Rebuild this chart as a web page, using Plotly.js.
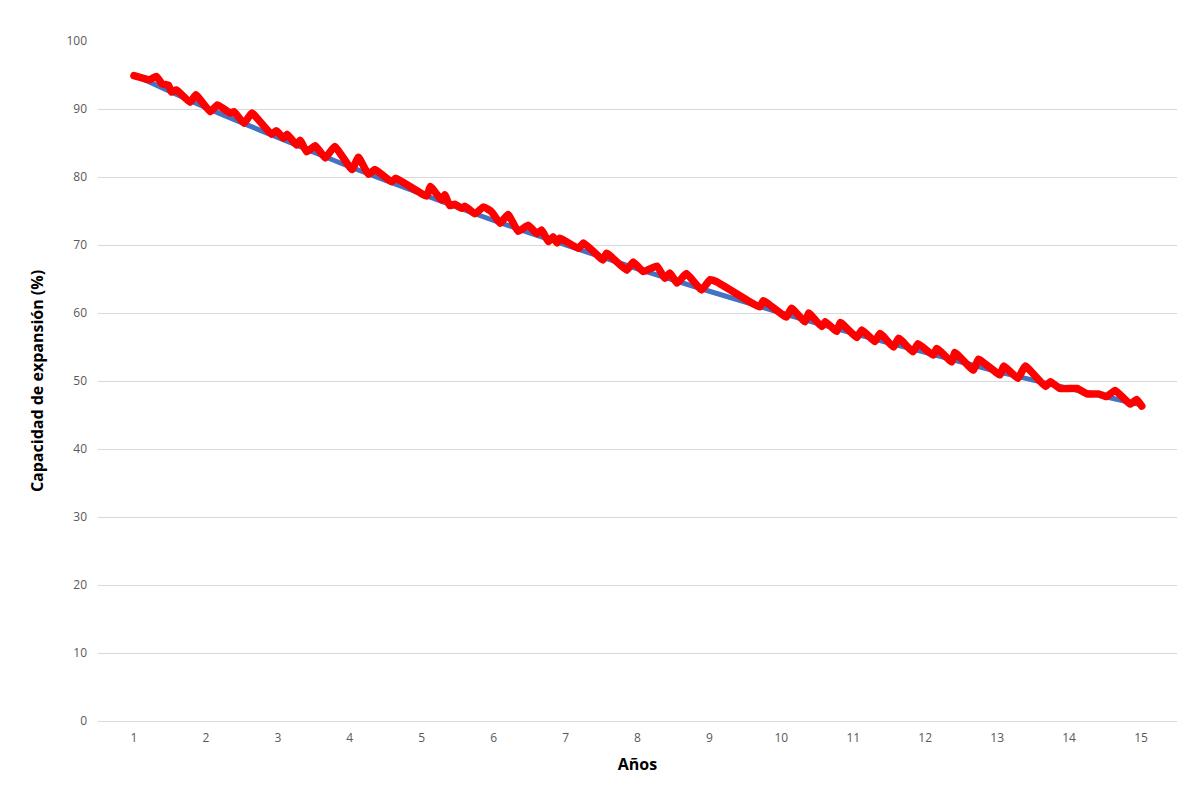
<!DOCTYPE html>
<html>
<head>
<meta charset="utf-8">
<script src="https://cdn.plot.ly/plotly-3.0.1.min.js"></script>
<style>
body{margin:0;background:#fff;}
#chart{width:1200px;height:812px;}
.js-line{stroke-linejoin:round !important;stroke-linecap:round !important;}
</style>
</head>
<body>
<div id="chart"></div>
<script>
// Reference (blue) line, one value per year
const trendYears = [1,2,3,4,5,6,7,8,9,10,11,12,13,14,15];
const trendValues = [95.0,90.2,85.8,81.5,77.5,73.6,70.0,66.5,63.2,60.0,57.0,54.2,51.4,48.9,46.5];

// Measured (red) line
const measuredYears = [1.00,1.22,1.31,1.39,1.48,1.52,1.59,1.78,1.86,2.06,2.16,2.34,2.39,2.53,2.64,2.91,2.98,3.08,3.13,3.26,
3.31,3.40,3.52,3.66,3.79,4.03,4.12,4.26,4.35,4.58,4.64,5.07,5.12,5.28,5.32,5.39,5.46,5.56,5.60,5.74,
5.86,5.97,6.09,6.20,6.34,6.48,6.60,6.67,6.76,6.83,6.88,6.92,7.18,7.25,7.52,7.57,7.85,7.94,8.08,8.27,
8.38,8.45,8.55,8.68,8.89,9.01,9.10,9.70,9.75,10.07,10.14,10.33,10.38,10.56,10.61,10.77,10.82,11.05,11.12,11.30,
11.37,11.56,11.63,11.83,11.90,12.11,12.16,12.37,12.41,12.67,12.74,13.04,13.09,13.29,13.39,13.67,13.74,13.87,14.11,14.25,
14.41,14.52,14.64,14.85,14.94,15.01];
const measuredValues = [94.9,94.3,94.8,93.7,93.5,92.5,92.8,91.0,92.1,89.6,90.6,89.4,89.6,87.9,89.4,86.3,86.8,85.7,86.3,84.7,
85.4,83.7,84.6,82.8,84.5,81.1,82.9,80.4,81.1,79.3,79.8,77.2,78.6,76.6,77.4,75.8,76.0,75.4,75.7,74.6,
75.6,74.9,73.2,74.5,72.0,72.9,71.7,72.2,70.5,71.2,70.3,71.0,69.5,70.3,67.8,68.8,66.3,67.5,66.1,66.9,
65.1,65.9,64.4,65.8,63.4,64.9,64.6,60.9,61.8,59.4,60.7,58.7,60.0,58.0,58.7,57.3,58.6,56.4,57.5,55.8,
57.0,55.0,56.3,54.3,55.5,53.8,54.8,52.8,54.2,51.6,53.2,50.9,52.2,50.4,52.2,49.2,49.9,48.9,48.9,48.1,
48.1,47.7,48.6,46.6,47.3,46.3];

const xTickVals = [1,2,3,4,5,6,7,8,9,10,11,12,13,14,15];
const xTickText = ['1','2','3','4','5','6','7','8','9','10','11','12','13','14','15'];
const yTickVals = [0,10,20,30,40,50,60,70,80,90,100];

const data = [
  {x: trendYears, y: trendValues, mode: 'lines', type: 'scatter',
   line: {color: '#4472C4', width: 5, shape: 'spline', smoothing: 0.6}, hoverinfo: 'skip'},
  {x: measuredYears, y: measuredValues, mode: 'lines', type: 'scatter',
   line: {color: '#FF0000', width: 7.5, shape: 'spline', smoothing: 0.35}}
];

const titleFont = {size: 16, color: '#000000', family: 'Open Sans, Liberation Sans, sans-serif', weight: 'bold'};

const layout = {
  width: 1200, height: 812,
  margin: {l: 98, r: 23, t: 41, b: 91},
  paper_bgcolor: '#ffffff', plot_bgcolor: '#ffffff',
  showlegend: false,
  font: {family: 'Open Sans, Liberation Sans, sans-serif', color: '#595959', size: 12},
  xaxis: {
    range: [0.5, 15.5],
    tickvals: xTickVals, ticktext: xTickText,
    showgrid: false, zeroline: false,
    showline: true, linecolor: '#d9d9d9', linewidth: 1,
    ticks: '', ticklabelstandoff: 6,
    tickfont: {size: 12, color: '#595959'},
    title: {text: 'Años', font: titleFont, standoff: 13}
  },
  yaxis: {
    range: [0, 100],
    tickvals: yTickVals,
    showgrid: true, gridcolor: '#d9d9d9', gridwidth: 1,
    zeroline: false, showline: false,
    ticks: '', ticklabelstandoff: 10,
    tickfont: {size: 12, color: '#595959'},
    title: {text: 'Capacidad de expansión (%)', font: titleFont, standoff: 18}
  }
};

Plotly.newPlot('chart', data, layout, {displayModeBar: false, staticPlot: true});
</script>
</body>
</html>
